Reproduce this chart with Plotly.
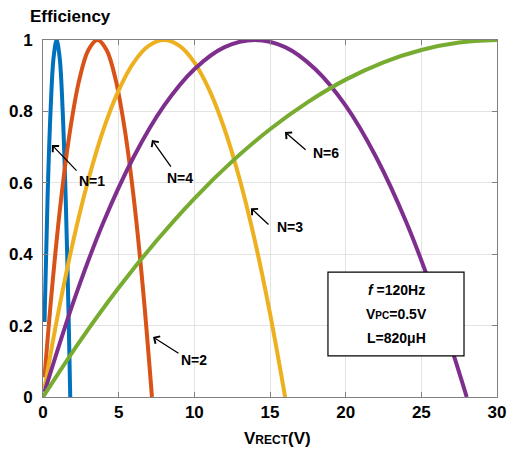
import plotly.graph_objects as go

# Values
x_n1 = [0.1, 0.3, 0.5, 0.7, 0.9, 1.1, 1.3, 1.5, 1.7, 1.8]
y_n1 = [0.21, 0.556, 0.802, 0.951, 1.0, 0.951, 0.802, 0.556, 0.21, 0.0]

x_n2 = [0.1, 0.6, 1.2, 1.8, 2.4, 3.0, 3.6, 4.2, 4.8, 5.4, 6.0, 6.6, 7.2]
y_n2 = [0.055, 0.306, 0.556, 0.75, 0.889, 0.972, 1.0, 0.972, 0.889, 0.75, 0.556, 0.306, 0.0]

x_n3 = [0.1, 1, 2, 3, 4, 5, 6, 7, 8, 9, 10, 11, 12, 13, 14, 15, 16]
y_n3 = [0.025, 0.234, 0.4375, 0.609, 0.75, 0.859, 0.9375, 0.984, 1.0,
        0.984, 0.9375, 0.859, 0.75, 0.609, 0.4375, 0.234, 0.0]

x_n4 = [0.1, 2, 4, 6, 8, 10, 12, 14, 16, 18, 20, 22, 24, 26, 28]
y_n4 = [0.014, 0.265, 0.49, 0.673, 0.816, 0.918, 0.98, 1.0, 0.98, 0.918,
        0.816, 0.673, 0.49, 0.265, 0.0]

x_n6 = [0, 2.5, 5, 7.5, 10, 12.5, 15, 17.5, 20, 22.5, 25, 27.5, 30]
y_n6 = [0.0, 0.16, 0.306, 0.4375, 0.556, 0.66, 0.75, 0.826, 0.889, 0.9375,
        0.972, 0.993, 1.0]

series = [
    (x_n1, y_n1, "#0072BD", "N=1"),
    (x_n2, y_n2, "#D95319", "N=2"),
    (x_n3, y_n3, "#EDB120", "N=3"),
    (x_n4, y_n4, "#7E2F8E", "N=4"),
    (x_n6, y_n6, "#77AC30", "N=6"),
]

x_ticks = [0, 5, 10, 15, 20, 25, 30]
y_ticks = [0, 0.2, 0.4, 0.6, 0.8, 1]
y_tick_text = ["0", "0.2", "0.4", "0.6", "0.8", "1"]

# label text position, arrow tail, arrow tip
labels = [
    ("N=1", (3.24, 0.605), (2.31, 0.63), (0.59, 0.706)),
    ("N=4", (9.05, 0.613), (8.52, 0.641), (7.2, 0.72)),
    ("N=6", (18.7, 0.683), (17.45, 0.689), (15.99, 0.742)),
    ("N=3", (16.32, 0.476), (15.0, 0.479), (13.74, 0.529)),
    ("N=2", (9.98, 0.104), (9.05, 0.12), (7.27, 0.168)),
]

FONT = "Liberation Sans Narrow, Liberation Sans, Arial, sans-serif"

fig = go.Figure()
for xs, ys, col, name in series:
    fig.add_trace(go.Scatter(x=xs, y=ys, mode="lines", name=name,
                             line=dict(color=col, width=4, shape="spline", smoothing=1.0),
                             showlegend=False))

anns = []
for txt, (tx, ty), (ax, ay), (hx, hy) in labels:
    anns.append(dict(x=hx, y=hy, ax=ax, ay=ay, xref="x", yref="y", axref="x", ayref="y",
                     text="", showarrow=True, arrowhead=4, arrowsize=1.3, arrowwidth=1.3,
                     arrowcolor="black"))
    anns.append(dict(x=tx, y=ty, xref="x", yref="y", text="<b>%s</b>" % txt, showarrow=False,
                     xanchor="center", yanchor="middle",
                     font=dict(size=14, color="black", family=FONT)))

# text box contents
anns += [
    dict(x=23.33, y=0.30, xref="x", yref="y", showarrow=False, xanchor="center", yanchor="middle",
         text="<b><i>f</i> =120Hz</b>", font=dict(size=14, color="black", family=FONT)),
    dict(x=23.33, y=0.233, xref="x", yref="y", showarrow=False, xanchor="center", yanchor="middle",
         text="<b>V<span style='font-size:10px'>PC</span>=0.5V</b>",
         font=dict(size=14, color="black", family=FONT)),
    dict(x=23.33, y=0.165, xref="x", yref="y", showarrow=False, xanchor="center", yanchor="middle",
         text="<b>L=820μH</b>", font=dict(size=14, color="black", family=FONT)),
    dict(x=70, y=16, xref="paper", yref="paper", showarrow=False, text="<b>Efficiency</b>",
         xanchor="center", yanchor="middle",
         font=dict(size=17, color="black", family=FONT)),
    dict(x=277, y=438, xref="paper", yref="paper", showarrow=False,
         xanchor="center", yanchor="middle",
         text="<b>V<span style='font-size:12px'>RECT</span>(V)</b>",
         font=dict(size=17, color="black", family=FONT)),
]

# convert pixel-positioned paper annotations
W, H = 510, 453
L, R, T, B = 43, 13, 40, 56
pw, ph = W - L - R, H - T - B
for a in anns:
    if a.get("xref") == "paper":
        a["x"] = (a["x"] - L) / pw
        a["y"] = (H - B - a["y"]) / ph

fig.update_layout(
    width=W, height=H,
    margin=dict(l=L, r=R, t=T, b=B, autoexpand=False),
    plot_bgcolor="white", paper_bgcolor="white",
    annotations=anns,
    shapes=[dict(type="rect", xref="x", yref="y", x0=18.83, x1=27.82, y0=0.115, y1=0.35,
                 line=dict(color="black", width=1.2), fillcolor="white", layer="above")],
    font=dict(family=FONT, color="black"),
)
fig.update_xaxes(range=[0, 30], tickvals=x_ticks, ticktext=["<b>%d</b>" % v for v in x_ticks],
                 showgrid=True, gridcolor="#e3e3e3", automargin=False,
                 showline=True, linecolor="#808080", linewidth=1, mirror="ticks",
                 ticks="inside", ticklen=5, tickcolor="#808080", zeroline=False,
                 tickfont=dict(size=17, family=FONT, color="black"))
fig.update_yaxes(range=[0, 1], tickvals=y_ticks, ticktext=["<b>%s</b>" % t for t in y_tick_text],
                 showgrid=True, gridcolor="#e3e3e3", automargin=False,
                 showline=True, linecolor="#808080", linewidth=1, mirror="ticks",
                 ticks="inside", ticklen=5, tickcolor="#808080", zeroline=False,
                 ticklabelstandoff=6,
                 tickfont=dict(size=17, family=FONT, color="black"))

fig.write_html("out.html")
